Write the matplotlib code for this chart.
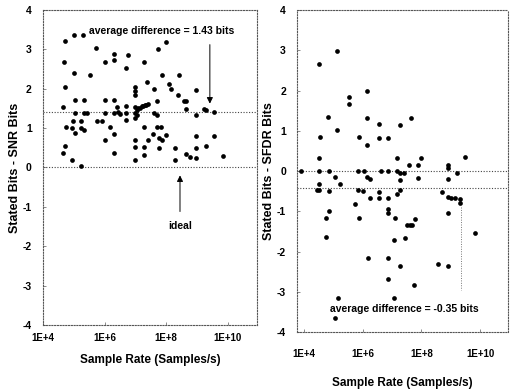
import numpy as np
import matplotlib
matplotlib.use("Agg")
import matplotlib.pyplot as plt

plt.rcParams['font.family'] = ['Liberation Sans', 'DejaVu Sans']
plt.rcParams['font.weight'] = 'bold'

# left panel: log10(sample rate), stated bits - SNR bits
snr_log_rate = [4.71, 5.01, 5.31, 4.69, 5.01, 5.53, 5.71, 4.71, 5.04, 5.33, 4.64, 5.04,
                5.33, 5.44, 4.75, 4.96, 5.23, 5.04, 5.33, 4.71, 4.66, 4.93, 5.22, 6.02,
                6.32, 6.32, 6.02, 6.32, 6.02, 5.74, 5.91, 6.32, 6.39, 6.44, 6.18, 6.32,
                6.02, 6.32, 6.69, 6.77, 6.69, 6.69, 6.69, 6.50, 6.99, 6.99, 6.99, 6.99,
                6.99, 7.05, 7.10, 7.15, 7.20, 7.25, 7.30, 7.35, 7.40, 6.99, 7.06, 6.99,
                6.99, 6.99, 7.28, 7.37, 7.29, 7.42, 7.28, 7.28, 7.60, 7.60, 7.58, 7.74,
                7.98, 7.69, 7.69, 7.69, 7.83, 7.78, 7.85, 7.78, 7.98, 7.85, 8.43, 8.10,
                8.16, 8.97, 8.39, 8.59, 8.66, 8.66, 9.24, 9.29, 9.56, 8.97, 8.97, 9.56,
                8.29, 8.97, 9.31, 8.66, 8.77, 8.97, 8.29, 9.85, 4.93, 5.22]
snr_diff = [3.22, 3.37, 3.37, 2.69, 2.39, 2.36, 3.03, 2.04, 1.72, 1.72, 1.53, 1.38,
            1.38, 1.38, 1.02, 1.19, 1.19, 0.87, 0.94, 0.54, 0.37, 0.19, 0.03, 2.69,
            2.88, 2.73, 1.72, 1.72, 1.38, 1.19, 1.19, 1.38, 1.53, 1.42, 1.02, 0.85,
            0.70, 0.36, 2.52, 2.86, 1.55, 1.38, 1.21, 1.36, 2.04, 1.95, 1.84, 1.53,
            1.38, 1.45, 1.50, 1.50, 1.55, 1.55, 1.58, 1.58, 1.62, 1.25, 1.32, 0.70,
            0.53, 0.18, 2.69, 2.18, 1.02, 0.69, 0.53, 0.32, 2.00, 1.38, 0.85, 3.01,
            3.18, 1.68, 1.34, 1.02, 1.02, 0.75, 0.69, 0.50, 0.83, 2.35, 2.35, 2.12,
            2.00, 1.97, 1.83, 1.68, 1.68, 1.49, 1.49, 1.45, 1.40, 1.32, 0.79, 0.79,
            0.50, 0.50, 0.54, 0.35, 0.26, 0.25, 0.18, 0.28, 1.00, 1.00]

# right panel: log10(sample rate), stated bits - SFDR bits
sfdr_log_rate = [3.89, 4.51, 5.13, 5.53, 5.53, 4.82, 5.13, 4.53, 4.51, 4.51, 4.85, 5.05,
                 5.24, 4.51, 4.51, 4.45, 4.85, 5.86, 6.15, 6.15, 6.15, 6.56, 6.56, 6.86,
                 7.28, 7.65, 7.16, 7.58, 7.90, 7.99, 5.84, 6.03, 6.63, 6.86, 7.16, 7.28,
                 7.40, 6.15, 6.26, 7.28, 7.90, 8.89, 8.89, 8.89, 9.20, 9.50, 5.84, 6.00,
                 6.26, 6.56, 6.86, 6.56, 7.16, 7.28, 8.69, 8.89, 9.00, 9.14, 9.31, 9.31,
                 5.75, 4.74, 4.85, 4.74, 5.86, 6.86, 6.86, 7.11, 7.05, 7.45, 7.50, 7.62,
                 7.69, 7.79, 8.89, 9.82, 6.18, 6.86, 7.28, 6.86, 7.76, 8.58, 8.89, 5.15,
                 5.05, 7.05]
sfdr_diff = [0.00, 2.66, 2.99, 1.84, 1.67, 1.34, 1.01, 0.84, 0.33, 0.00, 0.00, -0.15,
             -0.33, -0.33, -0.48, -0.48, -0.50, 0.84, 1.98, 1.32, 0.65, 1.16, 0.83, 0.83,
             1.14, 1.31, 0.33, 0.14, 0.14, 0.33, 0.00, 0.00, 0.00, 0.00, 0.00, -0.04,
             -0.04, -0.15, -0.20, -0.23, -0.17, 0.14, 0.07, -0.20, -0.04, 0.35, -0.48, -0.50,
             -0.66, -0.66, -0.66, -0.51, -0.56, -0.48, -0.51, -0.65, -0.68, -0.66, -0.70, -0.79,
             -0.83, -1.16, -0.99, -1.65, -1.16, -0.95, -1.03, -1.17, -1.72, -1.67, -1.35, -1.35,
             -1.35, -1.18, -1.03, -1.55, -2.15, -2.17, -2.36, -2.67, -2.84, -2.32, -2.36, -3.16,
             -3.64, -3.16]

snr_avg_line = 1.40
sfdr_avg_line = -0.42
x_ticks = [1e4, 1e6, 1e8, 1e10]
x_tick_labels = ["1E+4", "1E+6", "1E+8", "1E+10"]
y_ticks = [-4, -3, -2, -1, 0, 1, 2, 3, 4]

fig = plt.figure(figsize=(5.16, 3.92), dpi=100)
ax1 = fig.add_axes([0.0833, 0.171, 0.4147, 0.8036])
ax2 = fig.add_axes([0.5756, 0.153, 0.4089, 0.821])


def style_axis(ax, ylabel, xmin, xpad, xlabelpad):
    ax.set_xscale('log')
    ax.set_xlim(xmin, 10 ** 10.95)
    ax.set_ylim(-4, 4)
    ax.set_xticks(x_ticks)
    ax.set_xticklabels(x_tick_labels, fontsize=7, fontweight='bold')
    ax.minorticks_off()
    ax.set_yticks(y_ticks)
    ax.set_yticklabels([str(v) for v in y_ticks], fontsize=7.5, fontweight='bold')
    ax.tick_params(direction='in', length=2, width=0.6, color='#777777')
    ax.tick_params(axis='y', pad=8)
    ax.tick_params(axis='x', pad=xpad)
    for s in ax.spines.values():
        s.set_linestyle((0, (1, 1.5)))
        s.set_linewidth(0.8)
        s.set_color('#555555')
    ax.set_ylabel(ylabel, fontsize=9, fontweight='bold', labelpad=1)
    ax.set_xlabel("Sample Rate (Samples/s)", fontsize=8.5, fontweight='bold',
                  labelpad=xlabelpad)


# left panel
style_axis(ax1, "Stated Bits - SNR Bits", 1e4, 6, 8)
ax1.axhline(0, color='#444444', lw=0.8, ls=(0, (1, 1.5)))
ax1.axhline(snr_avg_line, color='#444444', lw=0.8, ls=(0, (1, 1.5)))
ax1.plot(10 ** np.array(snr_log_rate), snr_diff, 'o', color='black', ms=3.4, mew=0)
ax1.text(10 ** 7.86, 3.47, "average difference = 1.43 bits", ha='center', va='center',
         fontsize=7.5, fontweight='bold')
ax1.annotate("", xy=(10 ** 9.42, 1.55), xytext=(10 ** 9.42, 3.19),
             arrowprops=dict(arrowstyle='-|>', color='black', lw=0.7, mutation_scale=9))
ax1.annotate("", xy=(10 ** 8.45, -0.13), xytext=(10 ** 8.45, -1.19),
             arrowprops=dict(arrowstyle='-|>', color='black', lw=0.7, mutation_scale=9))
ax1.text(10 ** 8.45, -1.49, "ideal", ha='center', va='center', fontsize=7.5, fontweight='bold')

# right panel
style_axis(ax2, "Stated Bits - SFDR Bits", 10 ** 3.76, 12, 13)
ax2.axhline(0, color='#444444', lw=0.8, ls=(0, (1, 1.5)))
ax2.axhline(sfdr_avg_line, color='#444444', lw=0.8, ls=(0, (1, 1.5)))
ax2.plot(10 ** np.array(sfdr_log_rate), sfdr_diff, 'o', color='black', ms=3.4, mew=0)
ax2.plot([10 ** 9.35, 10 ** 9.35], [-0.9, -2.95], color='#777777', lw=0.7, ls=(0, (1, 1.5)))
ax2.text(10 ** 7.42, -3.42, "average difference = -0.35 bits", ha='center', va='center',
         fontsize=7.5, fontweight='bold')

fig.savefig("out.png", dpi=100)
